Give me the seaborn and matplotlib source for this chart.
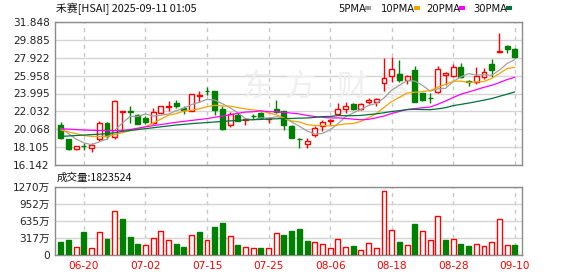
import numpy as np
import pandas as pd
import matplotlib
matplotlib.use("Agg")
import matplotlib.pyplot as plt
import seaborn as sns
from matplotlib.patches import Rectangle

# ---------------- data ----------------
dates = ["06-16", "06-17", "06-18", "06-20", "06-23", "06-24", "06-25", "06-26", "06-27", "06-30",
         "07-01", "07-02", "07-03", "07-07", "07-08", "07-09", "07-10", "07-11", "07-14", "07-15",
         "07-16", "07-17", "07-18", "07-21", "07-22", "07-23", "07-24", "07-25", "07-28", "07-29",
         "07-30", "07-31", "08-01", "08-04", "08-05", "08-06", "08-07", "08-08", "08-11", "08-12",
         "08-13", "08-14", "08-15", "08-18", "08-19", "08-20", "08-21", "08-22", "08-25", "08-26",
         "08-27", "08-28", "08-29", "09-02", "09-03", "09-04", "09-05", "09-08", "09-09", "09-10"]

opens = [20.60, 18.97, 17.95, 18.27, 18.07, 18.97, 20.78, 19.20, 21.94, 22.10,
         21.68, 21.32, 20.78, 21.86, 22.47, 22.95, 22.41, 22.05, 23.71, 24.30,
         24.22, 22.30, 20.60, 21.68, 21.06, 21.52, 21.86, 21.25, 22.34, 22.05,
         20.49, 19.06, 18.43, 19.51, 20.42, 20.99, 21.76, 22.30, 22.88, 22.34,
         23.02, 23.06, 25.18, 25.94, 26.13, 25.47, 26.56, 24.01, 23.54, 24.19,
         26.05, 25.91, 26.93, 25.32, 25.25, 25.83, 27.22, 28.53, 29.19, 28.83]
highs = [20.85, 19.04, 18.28, 18.61, 18.61, 20.99, 20.85, 23.31, 22.11, 22.59,
         21.76, 21.57, 22.41, 22.66, 23.17, 23.24, 22.59, 23.97, 24.22, 24.69,
         24.30, 22.59, 21.94, 21.86, 21.32, 21.76, 21.94, 21.39, 23.31, 22.12,
         20.53, 19.08, 19.08, 20.42, 21.14, 21.21, 22.95, 23.02, 22.95, 22.95,
         23.54, 23.54, 27.84, 28.02, 27.66, 26.02, 27.04, 24.08, 24.08, 27.00,
         26.38, 27.22, 27.37, 25.47, 26.86, 26.75, 27.77, 30.58, 29.30, 28.94]
lows = [19.04, 17.81, 17.85, 17.81, 17.59, 18.79, 18.97, 18.97, 19.87, 20.78,
        20.67, 20.67, 20.70, 21.86, 22.12, 22.41, 21.76, 22.05, 23.09, 23.86,
        21.68, 20.05, 20.31, 20.96, 20.53, 21.24, 21.24, 20.78, 21.86, 19.98,
        19.08, 17.99, 17.99, 19.26, 19.87, 20.60, 21.68, 21.86, 22.23, 22.23,
        22.84, 22.62, 24.30, 25.29, 25.29, 24.99, 23.02, 23.21, 22.99, 24.08,
        24.92, 25.83, 25.72, 24.81, 25.03, 25.54, 25.76, 28.39, 28.39, 27.84]
closes = [19.15, 17.95, 18.28, 18.24, 18.35, 20.78, 19.40, 23.17, 22.11, 22.00,
          20.70, 20.85, 21.97, 22.59, 22.63, 22.59, 22.16, 23.97, 23.79, 24.26,
          22.23, 20.13, 21.76, 21.03, 21.17, 21.48, 21.30, 21.36, 21.97, 20.57,
          19.15, 19.02, 18.79, 20.24, 20.93, 21.14, 22.30, 22.66, 22.34, 22.84,
          23.30, 23.38, 25.65, 26.64, 25.47, 25.94, 23.10, 23.28, 23.50, 26.71,
          26.20, 26.86, 25.83, 25.25, 25.91, 26.38, 26.56, 28.64, 28.90, 28.02]
# volume in 万 shares
volumes = [242, 279, 143, 428, 130, 422, 298, 818, 670, 335,
           205, 180, 316, 446, 273, 205, 149, 366, 428, 279,
           521, 595, 347, 186, 149, 136, 130, 130, 403, 372,
           446, 484, 260, 236, 198, 130, 291, 143, 167, 87,
           217, 130, 1190, 459, 242, 180, 577, 440, 273, 719,
           279, 291, 205, 167, 198, 167, 236, 663, 180, 182.3524]

# moving-average values before a full window of visible closes exists
ma5_head = [20.2, 19.6, 19.0, 18.6]
ma10_head = [20.0, 19.8, 19.6, 19.4, 19.3, 19.3, 19.3, 19.5, 19.7]
ma20_head = [20.13, 20.10, 20.05, 20.00, 19.97, 19.95, 19.93, 19.93, 19.95, 20.05,
             20.20, 20.35, 20.48, 20.60, 20.72, 20.85, 20.95, 21.05, 21.15]
ma30_head = [19.30, 19.35, 19.40, 19.45, 19.50, 19.55, 19.60, 19.70, 19.85, 19.95,
             20.05, 20.15, 20.25, 20.35, 20.45, 20.55, 20.62, 20.70, 20.76, 20.82,
             20.88, 20.94, 21.00, 21.05, 21.10, 21.13, 21.16, 21.20, 21.23]

price_ticks = [16.142, 18.105, 20.068, 22.032, 23.995, 25.958, 27.922, 29.885, 31.848]
vol_ticks = [0, 317, 635, 952, 1270]
vol_tick_labels = ["0", "317万", "635万", "952万", "1270万"]
date_ticks = ["06-20", "07-02", "07-15", "07-25", "08-06", "08-18", "08-28", "09-10"]
title = "禾赛[HSAI] 2025-09-11 01:05"
watermark = "东方财富"
ma_names = ["5PMA", "10PMA", "20PMA", "30PMA"]
ma_colors = ["#a0a0a0", "#f5a300", "#ff00ff", "#00733a"]

# ---------------- build tables ----------------
n = len(dates)
x = np.arange(n)
o = np.array(opens); h = np.array(highs); l = np.array(lows); c = np.array(closes)
cs = pd.Series(c)
mas = {}
for name, win, head in zip(ma_names, [5, 10, 20, 30], [ma5_head, ma10_head, ma20_head, ma30_head]):
    r = cs.rolling(win).mean().to_numpy()
    r[:len(head)] = head
    mas[name] = r
ma_df = pd.DataFrame({"idx": np.tile(x, 4),
                      "value": np.concatenate([mas[k] for k in ma_names]),
                      "ma": np.repeat(ma_names, n)})

RED = "#ff0000"
GREEN = "#008000"

# ---------------- figure ----------------
sns.set_theme(style="white")
plt.rcParams["font.family"] = ["DejaVu Sans", "Noto Sans CJK SC"]

W, H = 578, 276
fig = plt.figure(figsize=(W / 100, H / 100), dpi=100)


def rect(left, top, right, bottom):
    return [left / W, 1 - bottom / H, (right - left) / W, (bottom - top) / H]


ax = fig.add_axes(rect(55.3, 21.7, 521.7, 165.3))
axv = fig.add_axes(rect(55.3, 186.7, 521.7, 255.0))

tick_pos = [dates.index(d) for d in date_ticks]
xlim = (-0.72, n - 0.1)

for a in (ax, axv):
    a.set_facecolor("white")
    for s in a.spines.values():
        s.set_color("#8c8c8c")
        s.set_linewidth(1.0)
    a.set_xlim(*xlim)
    a.set_xticks(tick_pos)
    a.xaxis.grid(True, color="#c8c8c8", linestyle=(0, (3, 3)), linewidth=1.0)
    a.yaxis.grid(True, color="#d4d4d4", linestyle="-", linewidth=1.0)
    a.set_axisbelow(True)
    a.tick_params(axis="y", direction="out", length=3, width=1, color="#8c8c8c",
                  pad=1, labelsize=7.6, labelcolor="#222222")
    a.tick_params(axis="x", length=0)

# watermark (inside price panel, beneath marks)
for ch, xp in zip(watermark, [258, 300, 352, 394]):
    ax.text(xp / W, 1 - 87 / H, ch, transform=fig.transFigure, fontsize=22, color="#efefef",
            ha="center", va="center", family=["Noto Sans CJK SC"], zorder=1)

# candles
up = c >= o
col = np.where(up, RED, GREEN)
face = np.where(up, "white", GREEN)
ax.vlines(x, l, h, colors=col, linewidth=1.0, zorder=3)
ax.bar(x, np.maximum(np.abs(c - o), 0.02), bottom=np.minimum(o, c), width=0.64,
       color=face, edgecolor=col, linewidth=1.0, zorder=4)

# moving averages
sns.lineplot(data=ma_df, x="idx", y="value", hue="ma", hue_order=ma_names,
             palette=dict(zip(ma_names, ma_colors)), ax=ax, legend=False,
             linewidth=0.9, zorder=5)

ax.set_ylim(price_ticks[0], price_ticks[-1])
ax.set_yticks(price_ticks)
ax.set_yticklabels([f"{v:.3f}" for v in price_ticks])
ax.set_xticklabels([])
ax.set_xlabel("")
ax.set_ylabel("")

# volume: colour by change against previous close
vup = np.concatenate([[False], c[1:] >= c[:-1]])
vcol = np.where(vup, RED, GREEN)
vface = np.where(vup, "white", GREEN)
axv.bar(x, volumes, width=0.64, color=vface, edgecolor=vcol, linewidth=1.0, zorder=3)
axv.set_ylim(0, vol_ticks[-1])
axv.set_yticks(vol_ticks)
axv.set_yticklabels(vol_tick_labels)
axv.set_xticklabels(date_ticks)
axv.tick_params(axis="x", labelsize=7.6, labelcolor=RED, pad=4)

# header texts
fig.text(56 / W, 1 - 8.5 / H, title, fontsize=7.8, ha="left", va="center", color="#111111",
         family=["Noto Sans CJK SC", "DejaVu Sans"])
fig.text(57 / W, 1 - 177.5 / H, "成交量:" + str(int(round(volumes[-1] * 10000))), fontsize=7.6,
         ha="left", va="center", color="#111111", family=["Noto Sans CJK SC", "DejaVu Sans"])

leg_x = [338, 381, 426, 473]
for name, colr, lx in zip(ma_names, ma_colors, leg_x):
    fig.text(lx / W, 1 - 8.5 / H, name, fontsize=7.2, ha="left", va="center", color="#111111",
             family=["DejaVu Sans"])
    wpx = {"5PMA": 25, "10PMA": 31, "20PMA": 31, "30PMA": 31}[name]
    fig.patches.append(Rectangle(((lx + wpx + 2) / W, 1 - 10 / H), 6 / W, 3.5 / H,
                                 transform=fig.transFigure, facecolor=colr, edgecolor="none"))

fig.savefig("out.png", dpi=100)
